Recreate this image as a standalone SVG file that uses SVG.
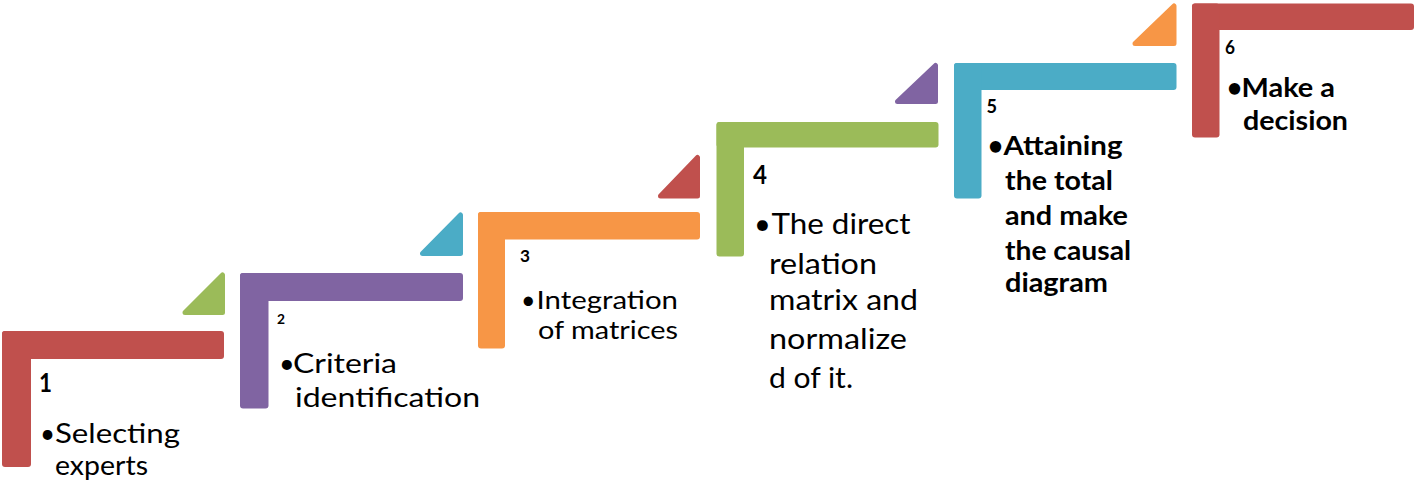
<svg xmlns="http://www.w3.org/2000/svg" width="1417" height="484" viewBox="0 0 1417 484">
<style>
  .red{fill:#C0504D}
  .green{fill:#9BBB59}
  .purple{fill:#8064A2}
  .blue{fill:#4BACC6}
  .orange{fill:#F79646}
  .tri{stroke-linejoin:round;stroke-width:5}
  .tri.red{stroke:#C0504D}.tri.green{stroke:#9BBB59}.tri.purple{stroke:#8064A2}.tri.blue{stroke:#4BACC6}.tri.orange{stroke:#F79646}
  text{font-family:Lato,"Open Sans","Liberation Sans",sans-serif;fill:#000}
  .num{font-weight:bold}
  .t{font-size:26px}
  .b{font-weight:bold}
</style>
<rect width="1417" height="484" fill="#FFFFFF"/>

<g id="connectors">
  <polygon class="tri green" points="222.5,275 222.5,312.5 185,312.5"/>
  <polygon class="tri blue" points="460.5,215 460.5,253.5 422.5,253.5"/>
  <polygon class="tri red" points="697.5,157.5 697.5,196 660.5,196"/>
  <polygon class="tri purple" points="935.5,65.5 935.5,101.5 897.5,101.5"/>
  <polygon class="tri orange" points="1174,6 1174,43.5 1135,43.5"/>
</g>

<g id="step1">
  <rect class="red" x="2" y="331" width="222" height="28" rx="3"/>
  <rect class="red" x="2" y="331" width="29" height="136" rx="3"/>
  <text class="num" x="39" y="391.5" font-size="26" textLength="13" lengthAdjust="spacingAndGlyphs">1</text>
  <text class="t" x="40" y="443">•</text>
  <text class="t" x="55" y="443" textLength="125" lengthAdjust="spacingAndGlyphs">Selecting</text>
  <text class="t" x="55" y="474.5" textLength="93" lengthAdjust="spacingAndGlyphs">experts</text>
</g>

<g id="step2">
  <rect class="purple" x="240" y="273" width="223" height="28" rx="3"/>
  <rect class="purple" x="240" y="273" width="28.5" height="135.5" rx="3"/>
  <text class="num" x="277" y="324" font-size="13" textLength="8" lengthAdjust="spacingAndGlyphs">2</text>
  <text class="t" x="279" y="372.5" style="font-size:27px">•</text>
  <text class="t" x="293" y="372.5" style="font-size:27px" textLength="104" lengthAdjust="spacingAndGlyphs">Criteria</text>
  <text class="t" x="295" y="406.5" style="font-size:27px" textLength="185" lengthAdjust="spacingAndGlyphs">identification</text>
</g>

<g id="step3">
  <rect class="orange" x="478" y="212" width="222" height="27.5" rx="3"/>
  <rect class="orange" x="478" y="212" width="27" height="136.5" rx="3"/>
  <text class="num" x="520" y="261.5" font-size="17" textLength="10" lengthAdjust="spacingAndGlyphs">3</text>
  <text class="t" x="521" y="309" style="font-size:25px">•</text>
  <text class="t" x="536.5" y="309" style="font-size:25px" textLength="141.5" lengthAdjust="spacingAndGlyphs">Integration</text>
  <text class="t" x="538" y="339" style="font-size:25px" textLength="140" lengthAdjust="spacingAndGlyphs">of matrices</text>
</g>

<g id="step4">
  <rect class="green" x="716.5" y="122" width="222" height="25.5" rx="3"/>
  <rect class="green" x="716.5" y="122" width="27.5" height="134.5" rx="3"/>
  <text class="num" x="753" y="184" font-size="26" textLength="14" lengthAdjust="spacingAndGlyphs">4</text>
  <text class="t" x="754" y="234" style="font-size:29px">•</text>
  <text class="t" x="771.5" y="234" style="font-size:29px" textLength="139" lengthAdjust="spacingAndGlyphs">The direct</text>
  <text class="t" x="769" y="274" style="font-size:29px" textLength="108" lengthAdjust="spacingAndGlyphs">relation</text>
  <text class="t" x="769" y="310" style="font-size:29px" textLength="149" lengthAdjust="spacingAndGlyphs">matrix and</text>
  <text class="t" x="769" y="349" style="font-size:29px" textLength="138" lengthAdjust="spacingAndGlyphs">normalize</text>
  <text class="t" x="769" y="388" style="font-size:29px" textLength="84" lengthAdjust="spacingAndGlyphs">d of it.</text>
</g>

<g id="step5">
  <rect class="blue" x="954" y="63" width="222.5" height="27" rx="3"/>
  <rect class="blue" x="954" y="63" width="27.5" height="135.5" rx="3"/>
  <text class="num" x="986.5" y="112.5" font-size="19" textLength="10.5" lengthAdjust="spacingAndGlyphs">5</text>
  <text class="t b" x="988" y="155">•</text>
  <text class="t b" x="1003.5" y="155" textLength="119" lengthAdjust="spacingAndGlyphs">Attaining</text>
  <text class="t b" x="1005" y="189.5" textLength="108" lengthAdjust="spacingAndGlyphs">the total</text>
  <text class="t b" x="1005" y="225" textLength="123" lengthAdjust="spacingAndGlyphs">and make</text>
  <text class="t b" x="1005" y="259.5" textLength="126" lengthAdjust="spacingAndGlyphs">the causal</text>
  <text class="t b" x="1005" y="292" textLength="103" lengthAdjust="spacingAndGlyphs">diagram</text>
</g>

<g id="step6">
  <rect class="red" x="1192" y="3.5" width="222" height="26.5" rx="3"/>
  <rect class="red" x="1192" y="3.5" width="27.5" height="134" rx="3"/>
  <text class="num" x="1225" y="54" font-size="18" textLength="10" lengthAdjust="spacingAndGlyphs">6</text>
  <text class="t b" x="1227" y="96.5">•</text>
  <text class="t b" x="1241.5" y="96.5" textLength="93.5" lengthAdjust="spacingAndGlyphs">Make a</text>
  <text class="t b" x="1243" y="130" textLength="105" lengthAdjust="spacingAndGlyphs">decision</text>
</g>
</svg>
